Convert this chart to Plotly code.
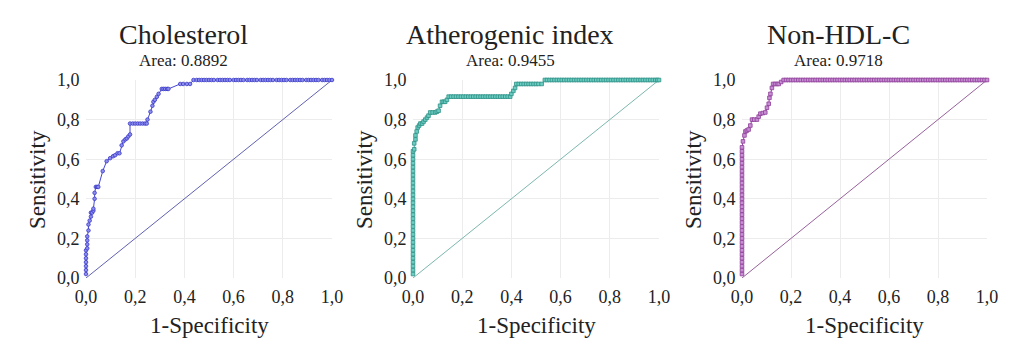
import plotly.graph_objects as go

W, H = 1034, 353

titles = ["Cholesterol", "Atherogenic index", "Non-HDL-C"]
areas = ["Area: 0.8892", "Area: 0.9455", "Area: 0.9718"]
tick_vals = [0.0, 0.2, 0.4, 0.6, 0.8, 1.0]
tick_text = ["0,0", "0,2", "0,4", "0,6", "0,8", "1,0"]

# Cholesterol ROC
chol_fpr = [0.0, 0.0, 0.0, 0.0, 0.0, 0.0, 0.0, 0.005, 0.005, 0.005, 0.005, 0.01, 0.01,
            0.015, 0.02, 0.02, 0.025, 0.03, 0.03, 0.035, 0.035, 0.04, 0.045, 0.05,
            0.068, 0.084, 0.098, 0.11, 0.118, 0.128, 0.136, 0.145, 0.152, 0.16, 0.166,
            0.172, 0.179, 0.179, 0.19, 0.2, 0.21, 0.22, 0.23, 0.24, 0.247, 0.25, 0.262,
            0.27, 0.274, 0.28, 0.288, 0.295, 0.308, 0.315, 0.322, 0.33, 0.335,
            0.383, 0.395, 0.41, 0.423,
            0.437, 0.45, 0.46, 0.47, 0.48, 0.49, 0.5, 0.51, 0.52, 0.535, 0.545, 0.555,
            0.565, 0.575, 0.585, 0.6, 0.61, 0.62, 0.63, 0.64, 0.655, 0.665, 0.675, 0.685,
            0.695, 0.71, 0.72, 0.73, 0.74, 0.75, 0.76, 0.775, 0.785, 0.795, 0.805, 0.815,
            0.83, 0.84, 0.85, 0.86, 0.87, 0.88, 0.895, 0.905, 0.915, 0.925, 0.935, 0.945,
            0.96, 0.97, 0.98, 0.99, 1.0]
chol_tpr = [0.02, 0.04, 0.06, 0.08, 0.1, 0.12, 0.14, 0.15, 0.17, 0.19, 0.21, 0.24, 0.27,
            0.29, 0.31, 0.33, 0.33, 0.34, 0.35, 0.4, 0.43, 0.46, 0.46, 0.46,
            0.54, 0.59, 0.605, 0.615, 0.62, 0.63, 0.63, 0.67, 0.69, 0.7, 0.705,
            0.715, 0.725, 0.78, 0.78, 0.78, 0.78, 0.78, 0.78, 0.78, 0.78, 0.8, 0.84,
            0.87, 0.89, 0.9, 0.915, 0.93, 0.955, 0.955, 0.955, 0.955, 0.955,
            0.98, 0.98, 0.98, 0.98,
            1.0, 1.0, 1.0, 1.0, 1.0, 1.0, 1.0, 1.0, 1.0, 1.0, 1.0, 1.0,
            1.0, 1.0, 1.0, 1.0, 1.0, 1.0, 1.0, 1.0, 1.0, 1.0, 1.0, 1.0,
            1.0, 1.0, 1.0, 1.0, 1.0, 1.0, 1.0, 1.0, 1.0, 1.0, 1.0, 1.0,
            1.0, 1.0, 1.0, 1.0, 1.0, 1.0, 1.0, 1.0, 1.0, 1.0, 1.0, 1.0,
            1.0, 1.0, 1.0, 1.0, 1.0]

# Atherogenic index ROC
athero_fpr = [0.0, 0.0, 0.0, 0.0, 0.0, 0.0, 0.0, 0.0, 0.0, 0.0, 0.0, 0.0, 0.0, 0.0, 0.0, 0.0,
              0.0, 0.0, 0.0, 0.0, 0.0, 0.0, 0.0, 0.0, 0.0, 0.0, 0.0, 0.0, 0.0, 0.0, 0.0, 0.0,
              0.005, 0.005, 0.01, 0.01, 0.015, 0.019, 0.025, 0.03, 0.037, 0.043, 0.05, 0.057,
              0.063, 0.07, 0.08, 0.09, 0.097, 0.104, 0.11, 0.118, 0.125, 0.131, 0.138, 0.145,
              0.155, 0.165, 0.175, 0.185, 0.195, 0.205, 0.215, 0.225, 0.235, 0.245, 0.255,
              0.265, 0.275, 0.285, 0.295, 0.305, 0.315, 0.325, 0.335, 0.345, 0.355, 0.365,
              0.375, 0.385, 0.395, 0.4, 0.408, 0.415, 0.42,
              0.43, 0.44, 0.45, 0.46, 0.47, 0.48, 0.49, 0.5, 0.51, 0.523, 0.536,
              0.545, 0.555, 0.565, 0.575, 0.585, 0.595, 0.605, 0.615, 0.625, 0.635, 0.645,
              0.655, 0.665, 0.675, 0.685, 0.695, 0.705, 0.715, 0.725, 0.735, 0.745, 0.755,
              0.765, 0.775, 0.785, 0.795, 0.805, 0.815, 0.825, 0.835, 0.845, 0.855, 0.865,
              0.875, 0.885, 0.895, 0.905, 0.915, 0.925, 0.935, 0.945, 0.955, 0.965, 0.975,
              0.985, 0.993, 1.0]
athero_tpr = [0.02, 0.04, 0.06, 0.08, 0.1, 0.12, 0.14, 0.16, 0.18, 0.2, 0.22, 0.24, 0.26, 0.28,
              0.3, 0.32, 0.34, 0.36, 0.38, 0.4, 0.42, 0.44, 0.46, 0.48, 0.5, 0.52, 0.54, 0.56,
              0.58, 0.6, 0.62, 0.64,
              0.65, 0.68, 0.7, 0.72, 0.74, 0.76, 0.77, 0.78, 0.78, 0.79, 0.8, 0.81,
              0.82, 0.836, 0.836, 0.836, 0.84, 0.845, 0.87, 0.89, 0.89, 0.89, 0.9, 0.916,
              0.916, 0.916, 0.916, 0.916, 0.916, 0.916, 0.916, 0.916, 0.916, 0.916, 0.916,
              0.916, 0.916, 0.916, 0.916, 0.916, 0.916, 0.916, 0.916, 0.916, 0.916, 0.916,
              0.916, 0.916, 0.916, 0.93, 0.945, 0.96, 0.98,
              0.98, 0.98, 0.98, 0.98, 0.98, 0.98, 0.98, 0.98, 0.98, 0.98, 1.0,
              1.0, 1.0, 1.0, 1.0, 1.0, 1.0, 1.0, 1.0, 1.0, 1.0, 1.0,
              1.0, 1.0, 1.0, 1.0, 1.0, 1.0, 1.0, 1.0, 1.0, 1.0, 1.0,
              1.0, 1.0, 1.0, 1.0, 1.0, 1.0, 1.0, 1.0, 1.0, 1.0, 1.0,
              1.0, 1.0, 1.0, 1.0, 1.0, 1.0, 1.0, 1.0, 1.0, 1.0, 1.0,
              1.0, 1.0, 1.0]

# Non-HDL-C ROC
nonhdl_fpr = [0.0, 0.0, 0.0, 0.0, 0.0, 0.0, 0.0, 0.0, 0.0, 0.0, 0.0, 0.0, 0.0, 0.0, 0.0, 0.0,
              0.0, 0.0, 0.0, 0.0, 0.0, 0.0, 0.0, 0.0, 0.0, 0.0, 0.0, 0.0, 0.0, 0.0, 0.0, 0.0, 0.0,
              0.004, 0.01, 0.014, 0.02, 0.027, 0.034, 0.041, 0.05, 0.061, 0.068, 0.075, 0.085,
              0.095, 0.102, 0.109, 0.112, 0.116, 0.122, 0.127, 0.135, 0.143, 0.15, 0.16, 0.17,
              0.18, 0.19, 0.2, 0.21, 0.22, 0.23, 0.24, 0.25, 0.26, 0.27, 0.28, 0.29, 0.3,
              0.31, 0.32, 0.33, 0.34, 0.35, 0.36, 0.37, 0.38, 0.39, 0.4, 0.41, 0.42, 0.43,
              0.44, 0.45, 0.46, 0.47, 0.48, 0.49, 0.5, 0.51, 0.52, 0.53, 0.54, 0.55, 0.56,
              0.57, 0.58, 0.59, 0.6, 0.61, 0.62, 0.63, 0.64, 0.65, 0.66, 0.67, 0.68, 0.69,
              0.7, 0.71, 0.72, 0.73, 0.74, 0.75, 0.76, 0.77, 0.78, 0.79, 0.8, 0.81, 0.82,
              0.83, 0.84, 0.85, 0.86, 0.87, 0.88, 0.89, 0.9, 0.91, 0.92, 0.93, 0.94, 0.95,
              0.96, 0.97, 0.98, 0.99, 1.0]
nonhdl_tpr = [0.02, 0.04, 0.06, 0.08, 0.1, 0.12, 0.14, 0.16, 0.18, 0.2, 0.22, 0.24, 0.26, 0.28,
              0.3, 0.32, 0.34, 0.36, 0.38, 0.4, 0.42, 0.44, 0.46, 0.48, 0.5, 0.52, 0.54, 0.56,
              0.58, 0.6, 0.62, 0.64, 0.66,
              0.69, 0.72, 0.74, 0.745, 0.75, 0.77, 0.8, 0.8, 0.8, 0.815, 0.83, 0.833,
              0.836, 0.86, 0.88, 0.91, 0.93, 0.96, 0.98, 0.98, 0.98, 0.98, 0.99, 1.0,
              1.0, 1.0, 1.0, 1.0, 1.0, 1.0, 1.0, 1.0, 1.0, 1.0, 1.0, 1.0, 1.0,
              1.0, 1.0, 1.0, 1.0, 1.0, 1.0, 1.0, 1.0, 1.0, 1.0, 1.0, 1.0, 1.0,
              1.0, 1.0, 1.0, 1.0, 1.0, 1.0, 1.0, 1.0, 1.0, 1.0, 1.0, 1.0, 1.0,
              1.0, 1.0, 1.0, 1.0, 1.0, 1.0, 1.0, 1.0, 1.0, 1.0, 1.0, 1.0, 1.0,
              1.0, 1.0, 1.0, 1.0, 1.0, 1.0, 1.0, 1.0, 1.0, 1.0, 1.0, 1.0, 1.0,
              1.0, 1.0, 1.0, 1.0, 1.0, 1.0, 1.0, 1.0, 1.0, 1.0, 1.0, 1.0, 1.0,
              1.0, 1.0, 1.0, 1.0, 1.0]

diag = [0.0, 1.0]

curves = [(chol_fpr, chol_tpr), (athero_fpr, athero_tpr), (nonhdl_fpr, nonhdl_tpr)]
line_colors = ["#4646d6", "#30aa9e", "#9a40a8"]
marker_fill = ["#8c8cf0", "#6ccdc2", "#c890d4"]
marker_edge = ["#3a3ac4", "#2e9086", "#8e3c98"]
diag_colors = ["rgba(80,80,170,0.9)", "rgba(110,175,165,0.9)", "rgba(140,80,145,0.9)"]
symbols = ["circle", "square", "square"]

# plot-area pixel boxes: (left, right)
x_px = [(86, 332), (413, 659), (742, 987)]
y_top, y_bot = 80, 278

FONT = "Liberation Serif"
TXT = "#222222"

fig = go.Figure()
annotations = []
for i, (fpr, tpr) in enumerate(curves):
    sfx = "" if i == 0 else str(i + 1)
    fig.add_trace(go.Scatter(
        x=diag, y=diag, mode="lines", xaxis="x" + sfx, yaxis="y" + sfx,
        line=dict(color=diag_colors[i], width=1), showlegend=False, hoverinfo="skip"))
    fig.add_trace(go.Scatter(
        x=fpr, y=tpr, mode="lines+markers", xaxis="x" + sfx, yaxis="y" + sfx,
        line=dict(color=line_colors[i], width=1),
        marker=dict(symbol=symbols[i], size=3.6, color=marker_fill[i],
                    line=dict(color=marker_edge[i], width=0.8)),
        cliponaxis=False, showlegend=False))
    l, r = x_px[i]
    axcommon = dict(range=[0, 1], tickvals=tick_vals, ticktext=tick_text,
                    showgrid=True, gridcolor="#ececec", gridwidth=1, zeroline=False,
                    showline=False, automargin=False, ticks="outside", ticklen=2,
                    tickcolor="rgba(0,0,0,0)",
                    tickfont=dict(family=FONT, size=18, color=TXT))
    fig.update_layout(**{
        "xaxis" + sfx: dict(domain=[l / W, r / W], anchor="y" + sfx, **axcommon),
        "yaxis" + sfx: dict(domain=[1 - y_bot / H, 1 - y_top / H], anchor="x" + sfx,
                            **axcommon),
    })
    cx = (l + r) / 2
    annotations.append(dict(text=titles[i], x=(cx - 26) / W, y=1 - 34 / H,
                            xref="paper", yref="paper", showarrow=False,
                            xanchor="center", yanchor="middle",
                            font=dict(family=FONT, size=28, color=TXT)))
    annotations.append(dict(text=areas[i], x=(cx - 26) / W, y=1 - 60 / H,
                            xref="paper", yref="paper", showarrow=False,
                            xanchor="center", yanchor="middle",
                            font=dict(family=FONT, size=17, color=TXT)))
    annotations.append(dict(text="1-Specificity", x=cx / W, y=1 - 325 / H,
                            xref="paper", yref="paper", showarrow=False,
                            xanchor="center", yanchor="middle",
                            font=dict(family=FONT, size=23, color=TXT)))
    annotations.append(dict(text="Sensitivity", x=(l - 49) / W, y=1 - 180 / H,
                            xref="paper", yref="paper", showarrow=False, textangle=-90,
                            xanchor="center", yanchor="middle",
                            font=dict(family=FONT, size=23, color=TXT)))

fig.update_layout(width=W, height=H, autosize=False,
                  margin=dict(l=0, r=0, t=0, b=0),
                  paper_bgcolor="white", plot_bgcolor="white",
                  annotations=annotations, showlegend=False)

fig.write_html("out.html", config={"displayModeBar": False},
               post_script="document.body.style.margin='0';"
                           "document.body.style.overflow='hidden';")
